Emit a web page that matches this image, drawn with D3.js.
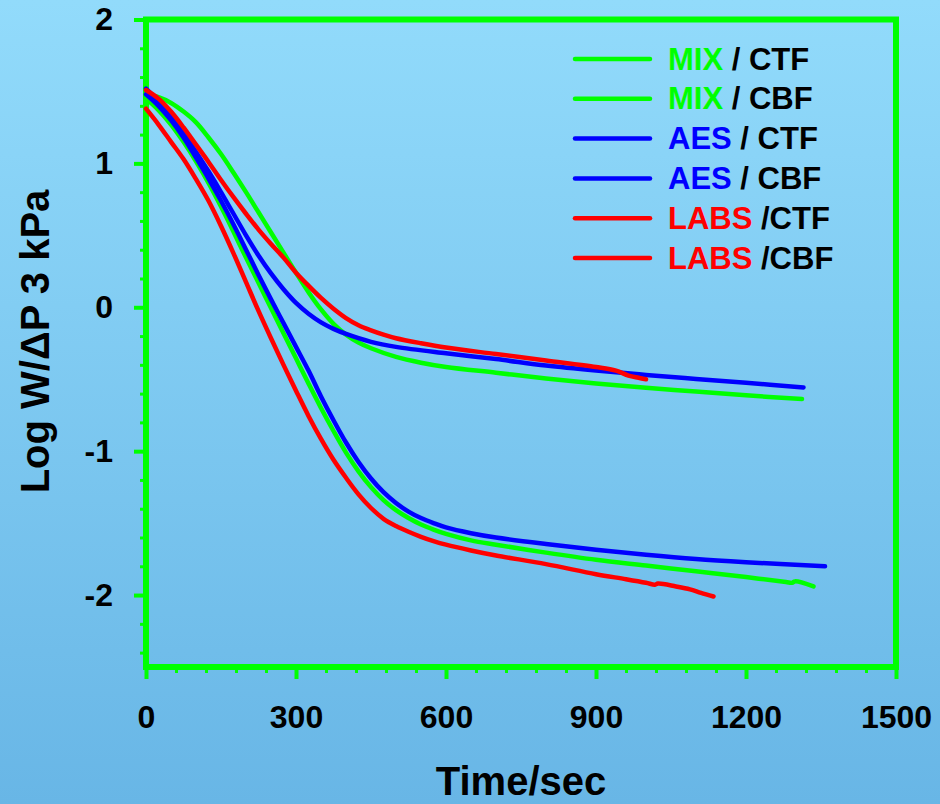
<!DOCTYPE html>
<html>
<head>
<meta charset="utf-8">
<script src="https://cdn.jsdelivr.net/npm/d3@7"></script>
<style>
  html, body { margin: 0; padding: 0; background: #7cc6ef; }
  svg { display: block; }
  text { font-family: "Liberation Sans", Arial, sans-serif; font-weight: bold; }
</style>
</head>
<body>
<svg id="chart" width="940" height="804"></svg>
<script>
// Filtration curves: log(W/ΔP) at 3 kPa against time, for three surfactant systems
// and two filter types each. Each series is a list of [time (s), log value].
const mixCTF = [[0,1.48],[25,1.46],[50,1.42],[75,1.36],[100,1.285],[125,1.18],[150,1.065],[175,0.935],[200,0.80],[225,0.66],[250,0.52],[275,0.38],[300,0.24],[325,0.105],[350,-0.015],[375,-0.115],[400,-0.19],[425,-0.245],[450,-0.285],[500,-0.345],[550,-0.385],[600,-0.415],[700,-0.455],[800,-0.495],[900,-0.53],[1000,-0.56],[1100,-0.585],[1200,-0.612],[1312,-0.638]];
const mixCBF = [[0,1.45],[25,1.37],[50,1.27],[75,1.15],[100,1.015],[125,0.865],[150,0.70],[175,0.525],[200,0.345],[225,0.17],[250,-0.005],[275,-0.18],[300,-0.355],[325,-0.53],[350,-0.70],[375,-0.86],[400,-1.01],[425,-1.14],[450,-1.25],[475,-1.34],[500,-1.41],[525,-1.465],[550,-1.51],[575,-1.545],[600,-1.575],[650,-1.62],[700,-1.65],[800,-1.705],[900,-1.755],[1000,-1.795],[1100,-1.835],[1200,-1.875],[1280,-1.91],[1292,-1.915],[1298,-1.905],[1335,-1.94]];
const aesCTF = [[0,1.52],[25,1.43],[50,1.33],[75,1.21],[100,1.08],[125,0.945],[150,0.80],[175,0.65],[200,0.50],[225,0.36],[250,0.235],[275,0.125],[300,0.03],[325,-0.045],[350,-0.105],[375,-0.15],[400,-0.185],[450,-0.24],[500,-0.275],[600,-0.32],[700,-0.36],[800,-0.405],[900,-0.44],[1000,-0.47],[1100,-0.498],[1200,-0.525],[1315,-0.557]];
const aesCBF = [[0,1.48],[25,1.40],[50,1.30],[75,1.18],[100,1.04],[125,0.895],[150,0.74],[175,0.575],[200,0.40],[225,0.225],[250,0.055],[275,-0.11],[300,-0.275],[325,-0.44],[350,-0.62],[375,-0.785],[400,-0.94],[425,-1.075],[450,-1.19],[475,-1.285],[500,-1.36],[525,-1.42],[550,-1.465],[575,-1.50],[600,-1.53],[650,-1.57],[700,-1.60],[800,-1.645],[900,-1.685],[1000,-1.72],[1100,-1.75],[1200,-1.772],[1358,-1.80]];
const labsCTF = [[0,1.51],[25,1.45],[50,1.36],[75,1.25],[100,1.13],[125,1.01],[150,0.885],[175,0.765],[200,0.65],[225,0.54],[250,0.44],[275,0.345],[300,0.24],[325,0.15],[350,0.065],[375,-0.01],[400,-0.075],[425,-0.125],[450,-0.16],[475,-0.19],[500,-0.215],[550,-0.25],[600,-0.28],[700,-0.325],[800,-0.37],[900,-0.415],[940,-0.44],[965,-0.475],[985,-0.49],[1000,-0.5]];
const labsCBF = [[0,1.38],[25,1.27],[50,1.15],[75,1.03],[100,0.89],[125,0.74],[150,0.565],[175,0.375],[200,0.175],[225,-0.025],[250,-0.215],[275,-0.40],[300,-0.58],[325,-0.755],[350,-0.915],[375,-1.06],[400,-1.185],[425,-1.30],[450,-1.395],[475,-1.47],[500,-1.52],[525,-1.56],[550,-1.595],[575,-1.625],[600,-1.65],[650,-1.69],[700,-1.725],[800,-1.785],[900,-1.855],[960,-1.89],[1000,-1.915],[1018,-1.928],[1024,-1.92],[1060,-1.94],[1088,-1.96],[1110,-1.985],[1135,-2.01]];

const seriesSystems = ["MIX", "MIX", "AES", "AES", "LABS", "LABS"];
const seriesFilters = [" / CTF", " / CBF", " / CTF", " / CBF", " /CTF", " /CBF"];
const seriesColors = ["#00ff00", "#00ff00", "#0000ff", "#0000ff", "#ff0000", "#ff0000"];
const seriesData = [mixCTF, mixCBF, aesCTF, aesCBF, labsCTF, labsCBF];

const xTicks = [0, 300, 600, 900, 1200, 1500];
const yTicks = [2, 1, 0, -1, -2];
const xTitle = "Time/sec";
const yTitle = "Log W/\u0394P 3 kPa";

const svg = d3.select("#chart");
const W = 940, H = 804;

// background gradient
const defs = svg.append("defs");
const grad = defs.append("linearGradient").attr("id", "bg").attr("x1", 0).attr("y1", 0).attr("x2", 0).attr("y2", 1);
grad.append("stop").attr("offset", "0%").attr("stop-color", "#92dbfb");
grad.append("stop").attr("offset", "100%").attr("stop-color", "#68b6e6");
svg.append("rect").attr("width", W).attr("height", H).attr("fill", "url(#bg)");

const x = d3.scaleLinear().domain([0, 1500]).range([146, 896]);
const y = d3.scaleLinear().domain([-2.5, 2]).range([667, 19.5]);
const frameGreen = "#00ff00";

// minor ticks
const xMinor = d3.range(0, 1501, 60).filter(v => v % 300 !== 0);
const yMinor = d3.range(-24, 20, 2).map(v => v / 10).filter(v => !Number.isInteger(v));

const gxMinor = svg.append("g").attr("transform", `translate(0,${y(-2.5)})`)
  .call(d3.axisBottom(x).tickValues(xMinor).tickSize(6).tickFormat(""));
const gyMinor = svg.append("g").attr("transform", `translate(${x(0)},0)`)
  .call(d3.axisLeft(y).tickValues(yMinor).tickSize(6).tickFormat(""));
[gxMinor, gyMinor].forEach(g => {
  g.select(".domain").remove();
  g.selectAll(".tick line").attr("stroke", frameGreen).attr("stroke-width", 3);
});

// major ticks with labels
const gx = svg.append("g").attr("transform", `translate(0,${y(-2.5)})`)
  .call(d3.axisBottom(x).tickValues(xTicks).tickSize(12).tickPadding(26).tickFormat(d => String(d)));
const gy = svg.append("g").attr("transform", `translate(${x(0)},0)`)
  .call(d3.axisLeft(y).tickValues(yTicks).tickSize(12).tickPadding(21).tickFormat(d => String(d)));
[gx, gy].forEach(g => {
  g.select(".domain").remove();
  g.selectAll(".tick line").attr("stroke", frameGreen).attr("stroke-width", 4);
  g.selectAll(".tick text").attr("fill", "#000").attr("font-size", 32)
    .attr("font-family", "'Liberation Sans', Arial, sans-serif").attr("font-weight", "bold");
});

// plot frame
svg.append("rect")
  .attr("x", x(0)).attr("y", y(2))
  .attr("width", x(1500) - x(0)).attr("height", y(-2.5) - y(2))
  .attr("fill", "none").attr("stroke", frameGreen).attr("stroke-width", 6);

// data lines
const line = d3.line().x(d => x(d[0])).y(d => y(d[1])).curve(d3.curveCatmullRom.alpha(0.5));
svg.append("g").selectAll("path")
  .data(d3.range(seriesData.length))
  .join("path")
  .attr("d", i => line(seriesData[i]))
  .attr("fill", "none")
  .attr("stroke", i => seriesColors[i])
  .attr("stroke-width", 4.5)
  .attr("stroke-linecap", "round")
  .attr("stroke-linejoin", "round");

// legend
const legend = svg.append("g");
seriesSystems.forEach((sys, i) => {
  const ly = 59 + i * 39.8;
  legend.append("line")
    .attr("x1", 575).attr("x2", 650).attr("y1", ly).attr("y2", ly)
    .attr("stroke", seriesColors[i]).attr("stroke-width", 4.5).attr("stroke-linecap", "round");
  const t = legend.append("text").attr("x", 668).attr("y", ly + 10.5).attr("font-size", 31)
    .style("white-space", "pre");
  t.append("tspan").attr("fill", seriesColors[i]).text(sys);
  t.append("tspan").attr("fill", "#000").text(seriesFilters[i]);
});

// axis titles
svg.append("text")
  .attr("x", (x(0) + x(1500)) / 2).attr("y", 795)
  .attr("text-anchor", "middle").attr("font-size", 40).attr("fill", "#000")
  .text(xTitle);
svg.append("text")
  .attr("transform", `translate(49,${341.5}) rotate(-90)`)
  .attr("text-anchor", "middle").attr("font-size", 40).attr("fill", "#000")
  .text(yTitle);
</script>
</body>
</html>
